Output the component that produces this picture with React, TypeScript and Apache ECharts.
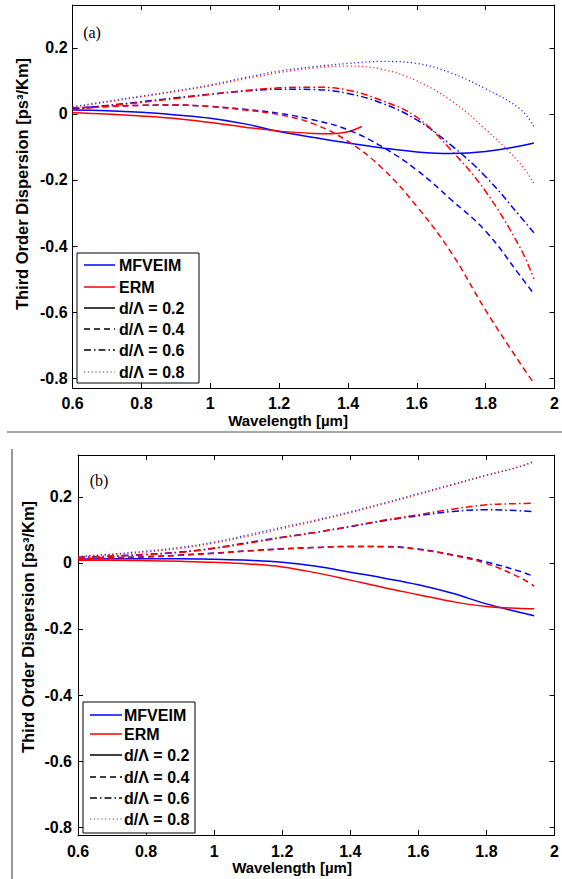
import React, { useEffect, useRef } from "react";
import * as echarts from "echarts";

// ---------- data ----------
const X = [0.6, 0.7, 0.8, 0.9, 1.0, 1.1, 1.2, 1.3, 1.4, 1.5, 1.6, 1.7, 1.8, 1.9, 1.94];
const X_A_ERM_02 = [0.6, 0.7, 0.8, 0.9, 1.0, 1.1, 1.2, 1.3, 1.35, 1.4, 1.44];
const Y_TICKS = [-0.8, -0.6, -0.4, -0.2, 0, 0.2];

// panel (a)
const a_mf_02 = [0.012, 0.010, 0.005, -0.003, -0.013, -0.030, -0.053, -0.071, -0.088, -0.103, -0.115, -0.120, -0.114, -0.097, -0.088];
const a_erm_02 = [0.004, 0.0, -0.006, -0.014, -0.026, -0.040, -0.052, -0.059, -0.060, -0.054, -0.038];
const a_mf_04 = [0.018, 0.023, 0.026, 0.027, 0.023, 0.014, 0.002, -0.018, -0.048, -0.100, -0.170, -0.260, -0.355, -0.490, -0.545];
const a_erm_04 = [0.017, 0.022, 0.026, 0.027, 0.022, 0.012, -0.002, -0.030, -0.083, -0.165, -0.280, -0.420, -0.595, -0.755, -0.815];
const a_mf_06 = [0.015, 0.026, 0.037, 0.049, 0.060, 0.069, 0.075, 0.074, 0.062, 0.032, -0.018, -0.095, -0.190, -0.310, -0.360];
const a_erm_06 = [0.013, 0.024, 0.035, 0.047, 0.059, 0.071, 0.079, 0.081, 0.072, 0.040, -0.010, -0.110, -0.235, -0.405, -0.500];
const a_mf_08 = [0.022, 0.038, 0.054, 0.070, 0.088, 0.110, 0.130, 0.143, 0.153, 0.159, 0.153, 0.124, 0.076, 0.015, -0.038];
const a_erm_08 = [0.020, 0.036, 0.052, 0.068, 0.085, 0.106, 0.125, 0.139, 0.145, 0.135, 0.100, 0.040, -0.047, -0.150, -0.210];

// panel (b)
const b_mf_02 = [0.012, 0.013, 0.013, 0.013, 0.011, 0.008, 0.002, -0.010, -0.028, -0.046, -0.066, -0.092, -0.124, -0.150, -0.160];
const b_erm_02 = [0.008, 0.008, 0.007, 0.005, 0.002, -0.003, -0.012, -0.030, -0.052, -0.075, -0.096, -0.117, -0.132, -0.138, -0.139];
const b_mf_04 = [0.013, 0.016, 0.019, 0.024, 0.030, 0.037, 0.043, 0.047, 0.050, 0.050, 0.042, 0.025, 0.003, -0.026, -0.041];
const b_erm_04 = [0.012, 0.015, 0.018, 0.023, 0.029, 0.036, 0.042, 0.047, 0.050, 0.049, 0.041, 0.023, -0.002, -0.045, -0.070];
const b_mf_06 = [0.017, 0.021, 0.026, 0.033, 0.045, 0.062, 0.078, 0.093, 0.110, 0.128, 0.143, 0.156, 0.161, 0.158, 0.155];
const b_erm_06 = [0.016, 0.020, 0.025, 0.032, 0.044, 0.060, 0.077, 0.093, 0.111, 0.130, 0.146, 0.163, 0.176, 0.180, 0.181];
const b_mf_08 = [0.020, 0.027, 0.036, 0.047, 0.063, 0.085, 0.108, 0.130, 0.155, 0.182, 0.210, 0.238, 0.266, 0.292, 0.307];
const b_erm_08 = [0.019, 0.025, 0.033, 0.044, 0.060, 0.081, 0.104, 0.127, 0.152, 0.179, 0.207, 0.236, 0.265, 0.293, 0.309];

const LEGEND_NAMES = ["MFVEIM", "ERM", "d/\u039B = 0.2", "d/\u039B = 0.4", "d/\u039B = 0.6", "d/\u039B = 0.8"];

// ---------- styles ----------
const BLUE = "#0000ff";
const RED = "#ff0000";
const DASH: Record<string, number[] | null> = {
  "0.2": null,
  "0.4": [6, 4],
  "0.6": [7, 3, 1.5, 3],
  "0.8": [1.2, 2.6],
};
const FONT = "'Liberation Sans', Arial, Helvetica, sans-serif";

function pairs(xs: number[], ys: number[]) {
  return ys.map((y, i) => [xs[i], y]);
}

function mkSeries(name: string, xs: number[], ys: number[], color: string, d: string, gi: number) {
  const dash = DASH[d];
  return {
    type: "line",
    name,
    xAxisIndex: gi * 2,
    yAxisIndex: gi * 2,
    data: pairs(xs, ys),
    smooth: 0.4,
    showSymbol: false,
    symbol: "none",
    clip: true,
    lineStyle: {
      color,
      width: d === "0.8" ? 1.3 : 1.5,
      type: dash ? dash : "solid",
      opacity: d === "0.8" ? 0.85 : 1,
    },
    z: 3,
  };
}

function axesFor(gi: number, labelMargin: number) {
  const lineStyle = { color: "#000", width: 1 };
  return [
    {
      type: "value",
      gridIndex: gi,
      position: "bottom",
      min: 0.6,
      max: 2,
      interval: 0.2,
      axisLine: { show: true, onZero: false, lineStyle },
      axisTick: { show: true, inside: true, length: 5, lineStyle },
      splitLine: { show: false },
      axisLabel: {
        show: true,
        margin: labelMargin,
        fontFamily: FONT,
        fontWeight: "bold",
        fontSize: 16,
        lineHeight: 16,
        color: "#000",
        showMinLabel: true,
        showMaxLabel: true,
        formatter: (v: number) => String(+v.toFixed(1)),
      },
    },
    {
      type: "value",
      gridIndex: gi,
      position: "top",
      min: 0.6,
      max: 2,
      interval: 0.2,
      axisLine: { show: true, onZero: false, lineStyle },
      axisTick: { show: true, inside: true, length: 5, lineStyle },
      splitLine: { show: false },
      axisLabel: { show: false },
    },
  ];
}

function yAxesFor(gi: number, min: number, max: number, labelMargin: number) {
  const lineStyle = { color: "#000", width: 1 };
  return [
    {
      type: "value",
      gridIndex: gi,
      position: "left",
      min,
      max,
      axisLine: { show: true, onZero: false, lineStyle },
      axisTick: { show: true, inside: true, length: 5, lineStyle, customValues: Y_TICKS },
      splitLine: { show: false },
      axisLabel: {
        show: true,
        margin: labelMargin,
        fontFamily: FONT,
        fontWeight: "bold",
        fontSize: 16,
        color: "#000",
        customValues: Y_TICKS,
        formatter: (v: number) => String(+v.toFixed(1)),
      },
    },
    {
      type: "value",
      gridIndex: gi,
      position: "right",
      min,
      max,
      axisLine: { show: true, onZero: false, lineStyle },
      axisTick: { show: true, inside: true, length: 5, lineStyle, customValues: Y_TICKS },
      splitLine: { show: false },
      axisLabel: { show: false, customValues: Y_TICKS },
    },
  ];
}

function legendGraphic(box: { x: number; y: number; w: number; h: number }, rows: number[], lx1: number, lx2: number, tx: number) {
  const items: any[] = [
    {
      type: "rect",
      shape: { x: box.x, y: box.y, width: box.w, height: box.h },
      style: { fill: "#fff", stroke: "#000", lineWidth: 1 },
      z: 50,
    },
  ];
  const styles = [
    { color: BLUE, dash: null },
    { color: RED, dash: null },
    { color: "#000", dash: DASH["0.2"] },
    { color: "#000", dash: DASH["0.4"] },
    { color: "#000", dash: DASH["0.6"] },
    { color: "#000", dash: DASH["0.8"] },
  ];
  LEGEND_NAMES.forEach((name, i) => {
    const s = styles[i];
    items.push({
      type: "line",
      shape: { x1: lx1, y1: rows[i], x2: lx2, y2: rows[i] },
      style: { stroke: s.color, lineWidth: i === 5 ? 1.2 : 1.5, lineDash: s.dash || undefined, opacity: i === 5 ? 0.7 : 1 },
      z: 51,
    });
    items.push({
      type: "text",
      x: tx,
      y: rows[i],
      style: {
        text: name,
        fill: "#000",
        font: `bold 16px ${FONT}`,
        textAlign: "left",
        textVerticalAlign: "middle",
      },
      z: 51,
    });
  });
  return items;
}

export default function App() {
  const ref = useRef<HTMLDivElement>(null);

  useEffect(() => {
    if (!ref.current) return;
    const chart = echarts.init(ref.current, null, { renderer: "svg" });

    const series = [
      mkSeries("MFVEIM d/Λ=0.2 (a)", X, a_mf_02, BLUE, "0.2", 0),
      mkSeries("ERM d/Λ=0.2 (a)", X_A_ERM_02, a_erm_02, RED, "0.2", 0),
      mkSeries("MFVEIM d/Λ=0.4 (a)", X, a_mf_04, BLUE, "0.4", 0),
      mkSeries("ERM d/Λ=0.4 (a)", X, a_erm_04, RED, "0.4", 0),
      mkSeries("MFVEIM d/Λ=0.6 (a)", X, a_mf_06, BLUE, "0.6", 0),
      mkSeries("ERM d/Λ=0.6 (a)", X, a_erm_06, RED, "0.6", 0),
      mkSeries("MFVEIM d/Λ=0.8 (a)", X, a_mf_08, BLUE, "0.8", 0),
      mkSeries("ERM d/Λ=0.8 (a)", X, a_erm_08, RED, "0.8", 0),
      mkSeries("MFVEIM d/Λ=0.2 (b)", X, b_mf_02, BLUE, "0.2", 1),
      mkSeries("ERM d/Λ=0.2 (b)", X, b_erm_02, RED, "0.2", 1),
      mkSeries("MFVEIM d/Λ=0.4 (b)", X, b_mf_04, BLUE, "0.4", 1),
      mkSeries("ERM d/Λ=0.4 (b)", X, b_erm_04, RED, "0.4", 1),
      mkSeries("MFVEIM d/Λ=0.6 (b)", X, b_mf_06, BLUE, "0.6", 1),
      mkSeries("ERM d/Λ=0.6 (b)", X, b_erm_06, RED, "0.6", 1),
      mkSeries("MFVEIM d/Λ=0.8 (b)", X, b_mf_08, BLUE, "0.8", 1),
      mkSeries("ERM d/Λ=0.8 (b)", X, b_erm_08, RED, "0.8", 1),
    ];

    const xTitleFont = `bold 15px ${FONT}`;
    const yTitleFont = `bold 16.5px ${FONT}`;
    const graphic: any[] = [
      // separators
      { type: "line", shape: { x1: 7, y1: 432, x2: 562, y2: 432 }, style: { stroke: "#555", lineWidth: 1.2 }, z: 40 },
      { type: "line", shape: { x1: 12, y1: 449, x2: 12, y2: 879 }, style: { stroke: "#333", lineWidth: 1 }, z: 40 },
      // panel labels
      { type: "text", x: 92, y: 32, style: { text: "(a)", fill: "#000", font: "16px 'Liberation Serif', 'Times New Roman', serif", textAlign: "center", textVerticalAlign: "middle" }, z: 40 },
      { type: "text", x: 99, y: 480, style: { text: "(b)", fill: "#000", font: "16px 'Liberation Serif', 'Times New Roman', serif", textAlign: "center", textVerticalAlign: "middle" }, z: 40 },
      // axis titles
      { type: "text", x: 22, y: 184, rotation: Math.PI / 2, style: { text: "Third Order Dispersion [ps\u00B3/Km]", fill: "#000", font: yTitleFont, textAlign: "center", textVerticalAlign: "middle" }, z: 40 },
      { type: "text", x: 28, y: 627, rotation: Math.PI / 2, style: { text: "Third Order Dispersion [ps\u00B3/Km]", fill: "#000", font: yTitleFont, textAlign: "center", textVerticalAlign: "middle" }, z: 40 },
      { type: "text", x: 288, y: 420, style: { text: "Wavelength [\u00B5m]", fill: "#000", font: xTitleFont, textAlign: "center", textVerticalAlign: "middle" }, z: 40 },
      { type: "text", x: 292, y: 867.5, style: { text: "Wavelength [\u00B5m]", fill: "#000", font: xTitleFont, textAlign: "center", textVerticalAlign: "middle" }, z: 40 },
      ...legendGraphic({ x: 77, y: 253, w: 122, h: 130 }, [265, 287, 308, 329, 350, 372], 84, 115, 119),
      ...legendGraphic({ x: 83, y: 702, w: 112, h: 131 }, [715, 734, 755, 777, 798, 819], 90, 122, 124),
    ];

    chart.setOption({
      animation: false,
      backgroundColor: "#fff",
      grid: [
        { left: 72.6, top: 5, width: 485.8, height: 383, containLabel: false },
        { left: 78, top: 455, width: 483, height: 380, containLabel: false },
      ],
      xAxis: [...axesFor(0, 7), ...axesFor(1, 8)],
      yAxis: [...yAxesFor(0, -0.83, 0.33, 5), ...yAxesFor(1, -0.824, 0.327, 6)],
      series,
      graphic,
    });

    return () => {
      chart.dispose();
    };
  }, []);

  return (
    <div
      ref={ref}
      style={{ position: "absolute", left: 0, top: 0, width: 562, height: 879, background: "#fff" }}
    />
  );
}
